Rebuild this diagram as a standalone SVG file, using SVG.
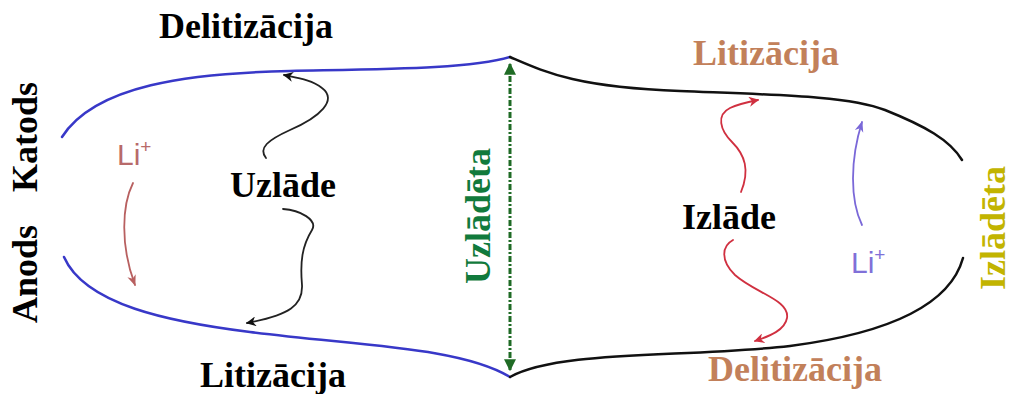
<svg xmlns="http://www.w3.org/2000/svg" width="1014" height="394" viewBox="0 0 1014 394">
<style>
.lbl{font-family:"Liberation Serif","Times New Roman",serif;font-weight:bold;font-size:36px;text-anchor:middle}
.li{font-family:"Liberation Sans",Arial,sans-serif;font-size:30px}
.curve{fill:none;stroke-width:2.5;stroke-linecap:round}
.thin{fill:none;stroke-width:1.8;stroke-linecap:round}
</style>
<defs>
<marker id="ahBlack" viewBox="0 0 10 10" refX="9" refY="5" markerWidth="10" markerHeight="10" markerUnits="userSpaceOnUse" orient="auto"><path d="M0,0 L10,5 L0,10 L3,5 Z" fill="#111"/></marker>
<marker id="ahRed" viewBox="0 0 10 10" refX="9" refY="5" markerWidth="10" markerHeight="10" markerUnits="userSpaceOnUse" orient="auto"><path d="M0,0 L10,5 L0,10 L3,5 Z" fill="#d03040"/></marker>
<marker id="ahBrown" viewBox="0 0 10 10" refX="9" refY="5" markerWidth="11" markerHeight="11" markerUnits="userSpaceOnUse" orient="auto"><path d="M0,1 L10,5 L0,9 L3,5 Z" fill="#b86060"/></marker>
<marker id="ahPurple" viewBox="0 0 10 10" refX="9" refY="5" markerWidth="11" markerHeight="11" markerUnits="userSpaceOnUse" orient="auto"><path d="M0,1 L10,5 L0,9 L3,5 Z" fill="#7a68d8"/></marker>
<marker id="ahGreen" viewBox="0 0 10 10" refX="9" refY="5" markerWidth="12" markerHeight="12" markerUnits="userSpaceOnUse" orient="auto-start-reverse"><path d="M0,0 L10,5 L0,10 Z" fill="#1f6b25"/></marker>
</defs>

<g id="electrodes">
<path class="curve" stroke="#3838c8" d="M62,137 C95,85 190,73 290,71 C390,69 470,69 510,57"/>
<path class="curve" stroke="#3838c8" d="M64,257 C85,305 170,322 250,332 C360,346 460,347 510,377"/>
<path class="curve" stroke="#111" d="M510,57 C545,72 575,87 680,91 C780,95 850,96 885,110 C925,126 950,140 962,160"/>
<path class="curve" stroke="#111" d="M963,258 C950,305 890,333 790,346 C680,358 560,350 510,377"/>
</g>

<g id="connectors">
<line x1="510" y1="64" x2="510" y2="370" stroke="#1f6b25" stroke-width="3" stroke-dasharray="6 2 2 2" marker-start="url(#ahGreen)" marker-end="url(#ahGreen)"/>
<path class="thin" stroke="#222" marker-end="url(#ahBlack)" d="M266,158 C258,148 268,140 290,130 C320,117 338,100 322,88 C312,80 298,78 284,75"/>
<path class="thin" stroke="#222" marker-end="url(#ahBlack)" d="M283,209 C300,210 318,220 312,230 C302,246 300,262 302,285 C303,305 290,315 247,323"/>
<path class="thin" stroke="#b86060" marker-end="url(#ahBrown)" d="M133,183 C122,205 120,245 135,285"/>
<path class="thin" stroke="#7a68d8" marker-end="url(#ahPurple)" d="M862,225 C850,200 850,160 862,122"/>
<path class="thin" stroke="#d03040" marker-end="url(#ahRed)" d="M741,192 C750,170 745,155 732,142 C720,130 716,115 730,108 C738,104 748,102 758,100"/>
<path class="thin" stroke="#d03040" marker-end="url(#ahRed)" d="M733,240 C722,246 720,260 735,275 C755,293 790,300 787,318 C785,330 770,336 755,341"/>
</g>

<g id="labels">
<text class="lbl" x="246" y="38" fill="#000">Delitizācija</text>
<text class="lbl" x="283" y="197" fill="#000">Uzlāde</text>
<text class="lbl" x="273" y="387" fill="#000">Litizācija</text>
<text class="lbl" x="766" y="65" fill="#c2805a">Litizācija</text>
<text class="lbl" x="729" y="229" fill="#000">Izlāde</text>
<text class="lbl" x="795" y="381" fill="#c2805a">Delitizācija</text>
<text class="lbl" transform="translate(37,137) rotate(-90)" fill="#000">Katods</text>
<text class="lbl" transform="translate(37,274) rotate(-90)" fill="#000">Anods</text>
<text class="lbl" transform="translate(490,216) rotate(-90)" fill="#117a3c">Uzlādēta</text>
<text class="lbl" transform="translate(1005,228) rotate(-90)" fill="#c2b400">Izlādēta</text>
<text class="li" x="117" y="165" fill="#b86a6a">Li<tspan font-size="19" dy="-12">+</tspan></text>
<text class="li" x="851" y="273" fill="#8070d8">Li<tspan font-size="19" dy="-12">+</tspan></text>
</g>
</svg>
